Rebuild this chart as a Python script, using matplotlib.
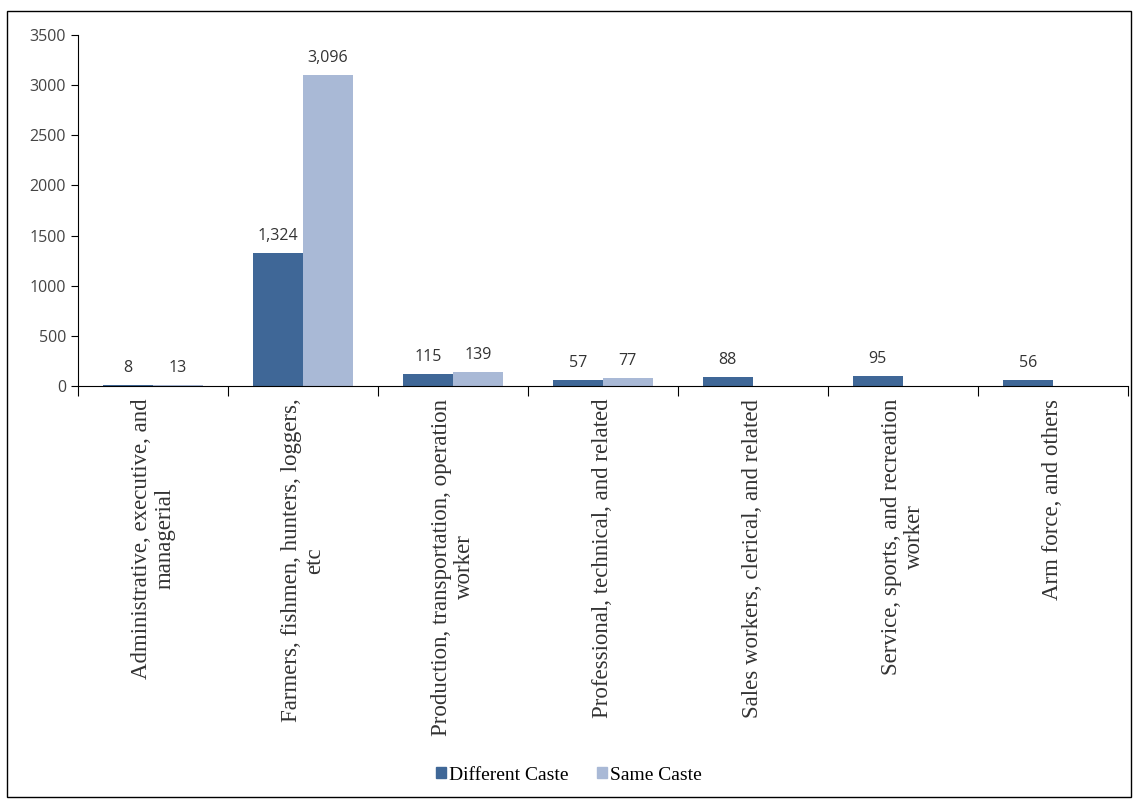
import numpy as np
import matplotlib.pyplot as plt
from matplotlib.patches import Rectangle

categories = ["Administrative, executive, and\nmanagerial",
              "Farmers, fishmen, hunters, loggers,\netc",
              "Production, transportation, operation\nworker",
              "Professional, technical, and related",
              "Sales workers, clerical, and related",
              "Service, sports, and recreation\nworker",
              "Arm force, and others"]
different_caste = [8, 1324, 115, 57, 88, 95, 56]
same_caste = [13, 3096, 139, 77, None, None, None]

dark = "#3f6797"
light = "#a9b9d6"

fig = plt.figure(figsize=(11.38, 8), dpi=100)
ax = fig.add_axes([0.0685, 0.5175, 0.9225, 0.4388])

x = np.arange(len(categories))
w = 1 / 3
for i in range(len(categories)):
    v = different_caste[i]
    ax.bar(x[i] - w / 2, v, w, color=dark)
    ax.text(x[i] - w / 2, v + 90, "{:,}".format(v), ha="center", va="bottom",
            fontsize=11.5, family="Open Sans", color="#333333")
    s = same_caste[i]
    if s is not None:
        ax.bar(x[i] + w / 2, s, w, color=light)
        ax.text(x[i] + w / 2, s + 90, "{:,}".format(s), ha="center", va="bottom",
                fontsize=11.5, family="Open Sans", color="#333333")

ax.set_xlim(-0.5, len(categories) - 0.5)
ax.set_ylim(0, 3500)
ax.set_yticks(range(0, 3501, 500))
ax.tick_params(axis="y", direction="out", length=5, labelsize=11.5, labelcolor="#444444")
for lab in ax.get_yticklabels():
    lab.set_family("Open Sans")

ax.set_xticks(np.arange(-0.5, len(categories), 1))
ax.set_xticklabels([])
ax.tick_params(axis="x", direction="out", length=7)
ax.set_xticks(x, minor=True)
ax.set_xticklabels(categories, minor=True, rotation=90, ha="center", va="top",
                   family="Liberation Serif", fontsize=16.5, color="#333333",
                   multialignment="center", linespacing=1.15)
ax.tick_params(axis="x", which="minor", length=0, pad=9)

ax.spines["top"].set_visible(False)
ax.spines["right"].set_visible(False)

h1 = Rectangle((0, 0), 1, 1, color=dark)
h2 = Rectangle((0, 0), 1, 1, color=light)
fig.legend([h1, h2], ["Different Caste", "Same Caste"], loc="center",
           bbox_to_anchor=(0.5, 0.031), ncol=2, frameon=False,
           prop={"family": "Liberation Serif", "size": 14},
           handlelength=0.5, handleheight=0.5, handletextpad=0.15, columnspacing=1.5)

fig.patches.append(Rectangle((7 / 1138, 3 / 800), 1124 / 1138, 786 / 800,
                             transform=fig.transFigure, fill=False,
                             edgecolor="black", linewidth=1))

fig.savefig("out.png", dpi=100)
